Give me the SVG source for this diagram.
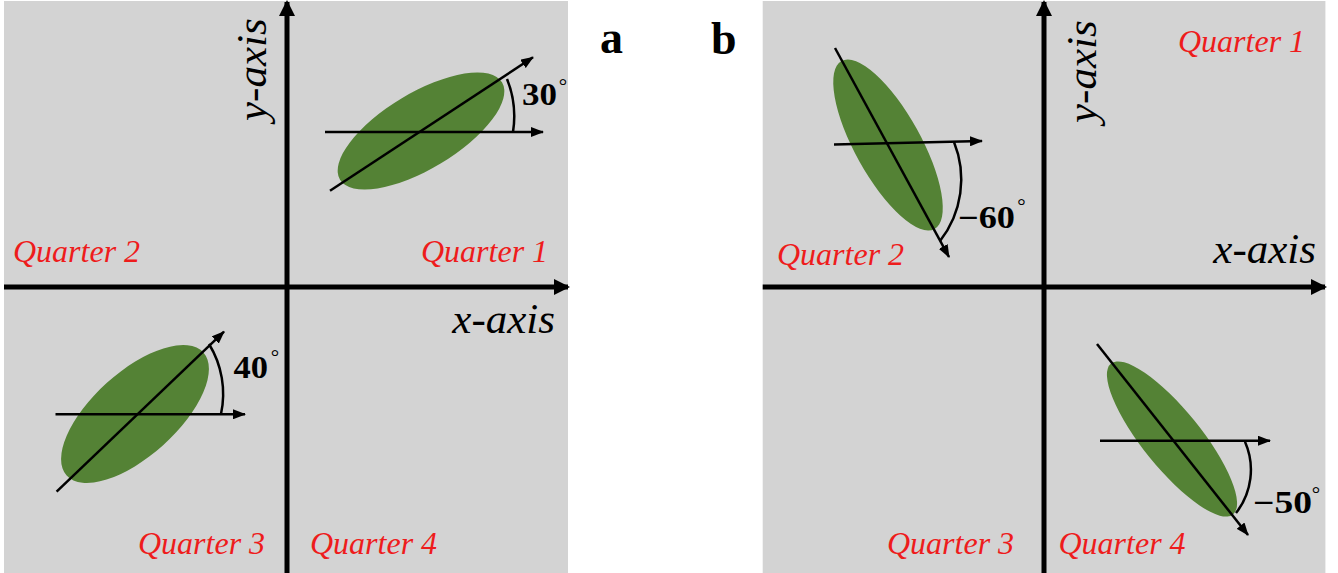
<svg xmlns="http://www.w3.org/2000/svg" width="1338" height="573" viewBox="0 0 1338 573">
<defs>
<style>
.bg{fill:#d3d3d3}
.axis{stroke:#000;stroke-width:5;fill:none}
.thin{stroke:#000;stroke-width:2.5;fill:none}
.leaf{fill:#548235}
.q{font-family:"Liberation Serif",serif;font-style:italic;font-size:32px;fill:#ee1c1c}
.ax{font-family:"Liberation Serif",serif;font-style:italic;font-size:43px;fill:#000}
.deg{font-family:"Liberation Serif",serif;font-weight:bold;font-size:31px;fill:#000}
.dsym{font-family:"Liberation Serif",serif;font-size:21px;fill:#000;text-anchor:middle}
.lab{font-family:"Liberation Serif",serif;font-weight:bold;font-size:46px;fill:#000}
</style>
<marker id="bigArrow" markerUnits="userSpaceOnUse" viewBox="0 0 16 16" markerWidth="16" markerHeight="16" refX="14" refY="8" orient="auto">
<path d="M0,0 L16,8 L0,16 z" fill="#000"/>
</marker>
<marker id="arrow" markerUnits="userSpaceOnUse" viewBox="0 0 13 10" markerWidth="13" markerHeight="10" refX="12" refY="5" orient="auto">
<path d="M0,0 L13,5 L0,10 z" fill="#000"/>
</marker>
</defs>

<g id="panel-a">
<rect class="bg" x="4" y="1" width="564" height="572"/>
<g id="a-ellipse-q1"><ellipse class="leaf" cx="421" cy="131" rx="94.5" ry="38" transform="rotate(-31 421 131)"/></g>
<g id="a-ellipse-q3"><ellipse class="leaf" cx="135" cy="414" rx="92" ry="42" transform="rotate(-42 135 414)"/></g>
<g id="a-connectors">
<line class="axis" x1="287" y1="573" x2="287" y2="2" marker-end="url(#bigArrow)"/>
<line class="axis" x1="4" y1="287" x2="568" y2="287" marker-end="url(#bigArrow)"/>
<line class="thin" x1="325" y1="132" x2="543" y2="132" marker-end="url(#arrow)"/>
<line class="thin" x1="330" y1="190.7" x2="533" y2="57.3" marker-end="url(#arrow)"/>
<path class="thin" d="M513,132 A100,100 0 0 0 507,79"/>
<line class="thin" x1="55.5" y1="414.3" x2="245" y2="414.3" marker-end="url(#arrow)"/>
<line class="thin" x1="56.6" y1="491.7" x2="224" y2="331.7" marker-end="url(#arrow)"/>
<path class="thin" d="M221,414 A95,95 0 0 0 209,344"/>
</g>
<g id="a-labels">
<text class="ax" transform="translate(266 121) rotate(-90)">y-axis</text>
<text class="ax" x="555" y="333" text-anchor="end">x-axis</text>
<text class="q" x="13" y="262">Quarter 2</text>
<text class="q" x="421" y="262">Quarter 1</text>
<text class="q" x="138" y="554">Quarter 3</text>
<text class="q" x="310" y="554">Quarter 4</text>
<text class="deg" x="522" y="105" textLength="35" lengthAdjust="spacingAndGlyphs">30</text>
<text class="dsym" x="563" y="93">°</text>
<text class="deg" x="233.5" y="378" textLength="34.5" lengthAdjust="spacingAndGlyphs">40</text>
<text class="dsym" x="275" y="363.5">°</text>
</g>
</g>

<g id="label-a"><text class="lab" x="600" y="53">a</text></g>
<g id="label-b"><text class="lab" x="711" y="54">b</text></g>

<g id="panel-b">
<rect class="bg" x="762.7" y="1" width="562.7" height="572"/>
<g id="b-ellipse-q2"><ellipse class="leaf" cx="888" cy="145" rx="96" ry="33" transform="rotate(61 888 145)"/></g>
<g id="b-ellipse-q4"><ellipse class="leaf" cx="1172" cy="439" rx="97" ry="29" transform="rotate(51 1172 439)"/></g>
<g id="b-connectors">
<line class="axis" x1="1044" y1="573" x2="1044" y2="2" marker-end="url(#bigArrow)"/>
<line class="axis" x1="762.7" y1="287" x2="1325" y2="287" marker-end="url(#bigArrow)"/>
<line class="thin" x1="834" y1="144.5" x2="982" y2="141" marker-end="url(#arrow)"/>
<line class="thin" x1="835" y1="48" x2="949" y2="257" marker-end="url(#arrow)"/>
<path class="thin" d="M954,142 A100,100 0 0 1 940,241"/>
<line class="thin" x1="1100" y1="440.7" x2="1270" y2="440.7" marker-end="url(#arrow)"/>
<line class="thin" x1="1097" y1="344" x2="1248" y2="535" marker-end="url(#arrow)"/>
<path class="thin" d="M1245,441.7 A70,70 0 0 1 1236,513"/>
</g>
<g id="b-labels">
<text class="ax" transform="translate(1096 123) rotate(-90)">y-axis</text>
<text class="ax" x="1316" y="263" text-anchor="end">x-axis</text>
<text class="q" x="1178" y="52">Quarter 1</text>
<text class="q" x="777" y="265">Quarter 2</text>
<text class="q" x="887" y="554">Quarter 3</text>
<text class="q" x="1058.5" y="554">Quarter 4</text>
<text class="deg" x="958" y="228" textLength="57" lengthAdjust="spacingAndGlyphs">−60</text>
<text class="dsym" x="1021.5" y="212.5">°</text>
<text class="deg" x="1253" y="513" textLength="59" lengthAdjust="spacingAndGlyphs">−50</text>
<text class="dsym" x="1316" y="501">°</text>
</g>
</g>
</svg>
